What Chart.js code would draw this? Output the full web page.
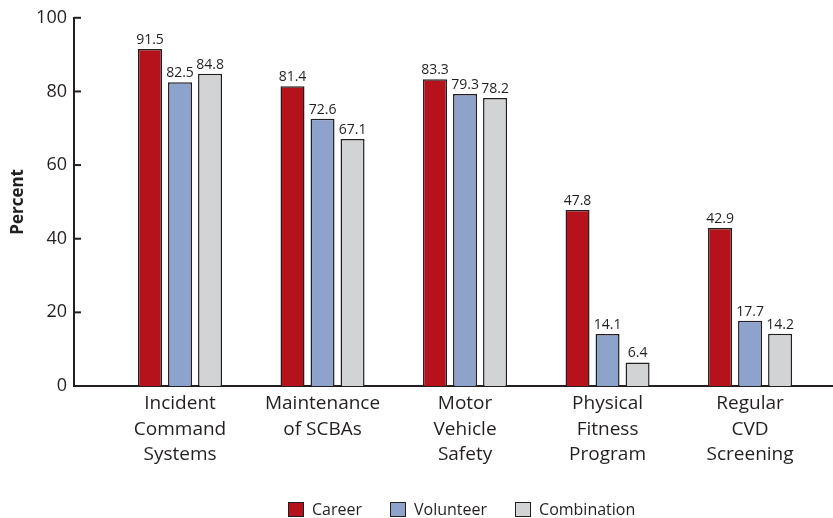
<!DOCTYPE html>
<html>
<head>
<meta charset="utf-8">
<script src="https://cdn.jsdelivr.net/npm/chart.js@4/dist/chart.umd.min.js"></script>
<style>
  body { margin: 0; background: #fff; }
  #wrap { position: relative; width: 833px; height: 518px; }
  #legend {
    position: absolute; left: 288px; top: 498px;
    display: flex; gap: 28px;
    font: 16px 'Open Sans', sans-serif; color: #231f20;
  }
  #legend span.item { display: flex; align-items: center; }
  #legend i {
    display: inline-block; width: 14px; height: 13px;
    border: 1.5px solid #231f20; margin-right: 8px;
  }
</style>
</head>
<body>
<div id="wrap">
  <canvas id="c" width="833" height="518"></canvas>
  <div id="legend"></div>
</div>
<script>
// categorías y valores (%)
const categories = [
    ['Incident', 'Command', 'Systems'],
    ['Maintenance', 'of SCBAs'],
    ['Motor', 'Vehicle', 'Safety'],
    ['Physical', 'Fitness', 'Program'],
    ['Regular', 'CVD', 'Screening'],
];
const seriesNames = ['Career', 'Volunteer', 'Combination'];
const career = [91.5, 81.4, 83.3, 47.8, 42.9];
const volunteer = [82.5, 72.6, 79.3, 14.1, 17.7];
const combination = [84.8, 67.1, 78.2, 6.4, 14.2];
const yTicks = [0, 20, 40, 60, 80, 100];

const colors = ['#b5121b', '#8ea3cc', '#d2d3d5'];
const edge = '#231f20';
const FONT = "'Open Sans', sans-serif";

const series = [career, volunteer, combination];

// etiquetas de valor encima de cada barra
const valueLabels = {
    id: 'valueLabels',
    afterDatasetsDraw(chart) {
        const c = chart.ctx;
        c.save();
        c.fillStyle = edge;
        c.font = `14px ${FONT}`;
        c.textAlign = 'center';
        c.textBaseline = 'alphabetic';
        chart.data.datasets.forEach((ds, di) => {
            chart.getDatasetMeta(di).data.forEach((bar, i) => {
                c.fillText(series[di][i].toFixed(1), bar.x, bar.y - 5);
            });
        });
        c.restore();
    },
};

// marcas del eje Y hacia dentro
const innerTicks = {
    id: 'innerTicks',
    afterDraw(chart) {
        const { ctx: c, scales: { y }, chartArea } = chart;
        c.save();
        c.strokeStyle = edge;
        c.lineWidth = 2;
        y.ticks.forEach(t => {
            const py = y.getPixelForValue(t.value);
            c.beginPath();
            c.moveTo(chartArea.left, py);
            c.lineTo(chartArea.left + 7, py);
            c.stroke();
        });
        c.restore();
    },
};

new Chart(document.getElementById('c'), {
    type: 'bar',
    data: {
        datasets: seriesNames.map((name, di) => ({
            label: name,
            data: series[di].map((v, i) => ({ x: i, y: v })),
            backgroundColor: colors[di],
            borderColor: edge,
            borderWidth: 1.5,
            borderSkipped: 'bottom',
            categoryPercentage: 0.632,
            barPercentage: 0.8,
        })),
    },
    options: {
        responsive: false,
        animation: false,
        layout: { padding: { top: 14, right: 0, bottom: 0, left: 0 } },
        plugins: { legend: { display: false }, tooltip: { enabled: false } },
        scales: {
            x: {
                type: 'linear',
                offset: false,
                min: -0.744,
                max: 4.582,
                grid: { display: false, drawTicks: false, offset: false },
                border: { display: true, color: edge, width: 2 },
                afterFit: s => { s.height = 132; },
                ticks: {
                    stepSize: 1,
                    includeBounds: false,
                    autoSkip: false,
                    maxRotation: 0,
                    padding: 5,
                    color: edge,
                    font: { family: FONT, size: 19, lineHeight: 1.34 },
                    callback: v => (Number.isInteger(v) && categories[v]) ? categories[v] : '',
                },
            },
            y: {
                min: 0,
                max: 100,
                afterBuildTicks: s => { s.ticks = yTicks.map(v => ({ value: v })); },
                afterFit: s => { s.width = 74; },
                grid: { display: false, drawTicks: false },
                border: { display: true, color: edge, width: 2 },
                ticks: {
                    padding: 7,
                    color: edge,
                    font: { family: FONT, size: 18 },
                },
                title: {
                    display: true,
                    text: 'Percent',
                    color: edge,
                    padding: { top: 8, bottom: 0 },
                    font: { family: FONT, size: 17, weight: 'bold' },
                },
            },
        },
    },
    plugins: [valueLabels, innerTicks],
});

// leyenda
document.getElementById('legend').innerHTML = seriesNames
    .map((n, i) => `<span class="item"><i style="background:${colors[i]}"></i>${n}</span>`)
    .join('');
</script>
</body>
</html>
